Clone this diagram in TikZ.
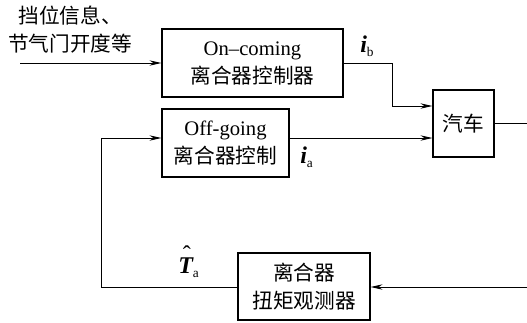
\documentclass[tikz,border=0pt]{standalone}
\usepackage{fontspec}
\setmainfont{Liberation Serif}
\newfontfamily\cjk{Noto Sans CJK SC}
\usetikzlibrary{arrows.meta}
\newcommand{\mysub}[1]{\raisebox{-3pt}{\fontsize{10}{10}\selectfont\upshape\mdseries #1}}
\newcommand{\hatT}{\rlap{\raisebox{8pt}{\hspace{3.5pt}\mdseries\upshape ˆ}}T}
\begin{document}
\begin{tikzpicture}[x=0.75pt,y=-0.75pt,
  blk/.style={draw,line width=0.8pt,inner sep=0pt,align=center,
    font=\fontsize{15.5}{21}\selectfont},
  conn/.style={line width=0.7pt},
  arr/.style={conn,-{Stealth[length=9pt,width=4pt]}},
  lbl/.style={inner sep=0pt,font=\fontsize{15.5}{21}\selectfont},
  mlbl/.style={inner sep=0pt,font=\fontsize{18}{20}\selectfont\bfseries\itshape}]
\useasboundingbox (0,0) rectangle (527,322);
\node[blk,minimum width=135.75pt,minimum height=51pt] (on) at (252.5,63)
  {On–coming\\{\cjk 离合器控制器}};
\node[blk,minimum width=95.25pt,minimum height=51pt] (off) at (225.5,143)
  {Off-going\\{\cjk 离合器控制}};
\node[blk,minimum width=45.75pt,minimum height=50.25pt] (car) at (463.5,123.5)
  {\cjk 汽车};
\node[blk,minimum width=99pt,minimum height=50.25pt] (obs) at (304,286.5)
  {\cjk 离合器\\\cjk 扭矩观测器};
\node[lbl,align=center] (info) at (70,30) {\cjk 挡位信息、\\\cjk 节气门开度等};
\node[mlbl,anchor=base west] (ib) at (360,52) {i\mysub{b}};
\node[mlbl,anchor=base west] (ia) at (300,163) {i\mysub{a}};
\node[mlbl,anchor=base west] (ta) at (178,273) {\hatT\mysub{a}};
\coordinate (in) at (20,63);
\coordinate (jb) at (392,106);
\coordinate (outR) at (527,123.5);
\coordinate (fbR) at (527,287);
\coordinate (fbL) at (101,138);
\draw[arr] (in) -- (on.west);
\draw[arr] (on.east) -| (jb) -- (car.west |- jb);
\draw[arr] ([yshift=3.75pt]off.east) -- (car.west |- fbL);
\draw[conn] (car.east) -- (outR);
\draw[arr] (fbR) -- (obs.east |- fbR);
\draw[arr] (obs.west |- fbR) -| (fbL) -- (off.west |- fbL);
\end{tikzpicture}
\end{document}
